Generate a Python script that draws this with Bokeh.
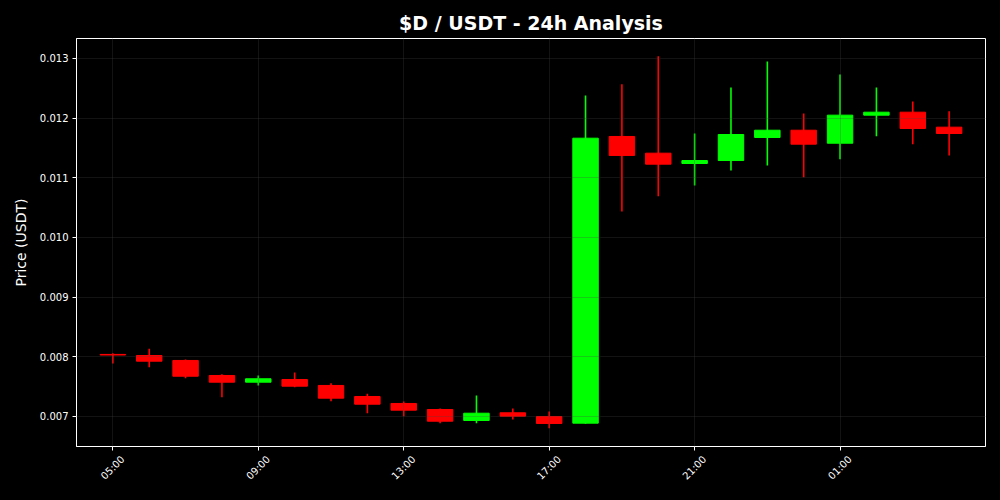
import math
import pandas as pd
from bokeh.plotting import figure
from bokeh.models import (FixedTicker, DatetimeTickFormatter, ColumnDataSource,
                          NumeralTickFormatter, DatetimeAxis)
from bokeh.embed import file_html
from bokeh.resources import INLINE

# ---- data (hourly candles, 05:00 -> 04:00 next day) ----
start_time = "2024-01-01 05:00"
opens  = [0.00804, 0.008022, 0.007939, 0.007687, 0.007575, 0.00762, 0.00752, 0.007335,
          0.007218, 0.007117, 0.006933, 0.007062, 0.0070, 0.006888, 0.011693, 0.011413,
          0.01124, 0.01129, 0.011676, 0.011798, 0.01158, 0.01205, 0.0121, 0.011849]
closes = [0.00803, 0.007927, 0.007675, 0.007575, 0.007632, 0.007508, 0.007307, 0.007206,
          0.007106, 0.006921, 0.007055, 0.007005, 0.006883, 0.011664, 0.011375, 0.011229,
          0.01129, 0.011726, 0.011798, 0.011564, 0.01205, 0.0121, 0.011827, 0.011743]
highs  = [0.00806, 0.008135, 0.007955, 0.007709, 0.007687, 0.007737, 0.007558, 0.00738,
          0.007251, 0.007134, 0.007352, 0.007134, 0.007084, 0.01238, 0.012569, 0.013039,
          0.011743, 0.012514, 0.01295, 0.012078, 0.012732, 0.012514, 0.012279, 0.012117]
lows   = [0.00789, 0.007826, 0.007642, 0.007323, 0.00752, 0.00749, 0.007256, 0.007055,
          0.007005, 0.006888, 0.006888, 0.00695, 0.006804, 0.00688, 0.010436, 0.010692,
          0.010871, 0.011123, 0.011207, 0.011011, 0.011312, 0.011698, 0.011564, 0.011374]
y_ticks = [0.007, 0.008, 0.009, 0.010, 0.011, 0.012, 0.013]
x_tick_every = 4
x_label_format = "%H:00"

times = pd.date_range(start_time, periods=len(opens), freq="h")
ms = [t.value / 1e6 for t in times]
hour_ms = 3600 * 1000
x_ticks = ms[::x_tick_every]

up = [c >= o for o, c in zip(opens, closes)]
colors = ["#00ff00" if u else "#ff0000" for u in up]
tops = [max(o, c) for o, c in zip(opens, closes)]
bots = [min(o, c) for o, c in zip(opens, closes)]
src = ColumnDataSource(dict(x=ms, o=opens, c=closes, h=highs, l=lows,
                            top=tops, bot=bots, color=colors))

y_start, y_end = 0.006497, 0.013335
p = figure(width=1000, height=500, output_backend="svg", toolbar_location=None,
           x_axis_type="datetime",
           x_range=(ms[0] - hour_ms, ms[-1] + hour_ms),
           y_range=(y_start, y_end),
           background_fill_color="black", border_fill_color="black",
           min_border_left=76, min_border_right=15, min_border_top=38, min_border_bottom=54)

p.segment(x0="x", x1="x", y0="l", y1="h", color="color", line_width=1.6, source=src)
p.vbar(x="x", width=0.7 * hour_ms, top="top", bottom="bot", fill_color="color",
       line_color="color", line_width=1, source=src)

# title
p.title.text = "$D / USDT - 24h Analysis"
p.title.text_color = "white"
p.title.text_font = "DejaVu Sans"
p.title.text_font_size = "19px"
p.title.text_font_style = "bold"
p.title.align = "center"

p.outline_line_color = "white"
p.outline_line_width = 1

# main x axis: tick marks only (drawn as minor ticks, so no label texts)
p.xaxis.ticker = FixedTicker(ticks=[], minor_ticks=x_ticks)
p.xaxis.axis_line_color = "white"
p.xaxis.minor_tick_line_color = "white"
p.xaxis.minor_tick_out = 4
p.xaxis.minor_tick_in = 0
p.xaxis.major_tick_out = 4
p.xaxis.major_tick_in = 0
p.xaxis.major_label_standoff = 0

p.yaxis.ticker = FixedTicker(ticks=y_ticks)
p.yaxis.formatter = NumeralTickFormatter(format="0.000")
p.yaxis.axis_label = "Price (USDT)"
p.yaxis.axis_label_text_font_style = "normal"
p.yaxis.axis_label_text_font_size = "14px"
p.yaxis.axis_label_text_color = "white"
p.yaxis.axis_label_text_font = "DejaVu Sans"
p.yaxis.axis_label_standoff = 8
p.yaxis.major_label_standoff = 4
p.yaxis.major_label_text_font = "DejaVu Sans"
p.yaxis.major_label_text_font_size = "10px"
p.yaxis.major_label_text_color = "white"
p.yaxis.axis_line_color = "white"
p.yaxis.major_tick_line_color = "white"
p.yaxis.minor_tick_line_color = None
p.yaxis.major_tick_out = 4
p.yaxis.major_tick_in = 0

# rotated x tick labels, centred on their ticks (second axis carries only the labels)
label_shift = 0.275 * hour_ms
lab_axis = DatetimeAxis(ticker=FixedTicker(ticks=[t + label_shift for t in x_ticks]),
                        formatter=DatetimeTickFormatter(hours=x_label_format,
                                                        days=x_label_format,
                                                        hourmin=x_label_format,
                                                        minutes=x_label_format),
                        axis_line_color=None, major_tick_line_color=None,
                        minor_tick_line_color=None, major_tick_out=0, major_tick_in=0,
                        major_label_standoff=7,
                        major_label_orientation=math.pi / 4,
                        major_label_text_color="white",
                        major_label_text_font="DejaVu Sans",
                        major_label_text_font_size="10px")
p.add_layout(lab_axis, "below")

p.grid.grid_line_color = "#444444"
p.grid.grid_line_alpha = 0.35
p.grid.grid_line_width = 0.8
p.grid.level = "overlay"
p.xgrid.ticker = FixedTicker(ticks=x_ticks)
p.ygrid.ticker = FixedTicker(ticks=y_ticks)

html = file_html(p, INLINE)
html = html.replace("<head>", "<head><style>html,body{background:#000000;}</style>", 1)
open("out.html", "w").write(html)
